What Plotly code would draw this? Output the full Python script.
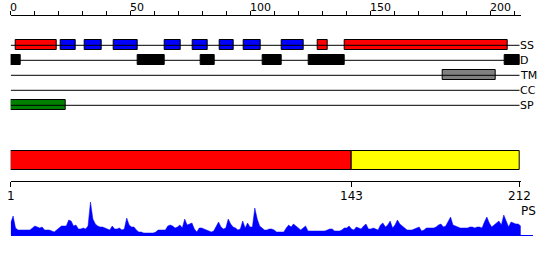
import plotly.graph_objects as go

# ---------------- data ----------------
track_names = ["SS", "D", "TM", "CC", "SP"]

# segments on the 0..212 ruler: (start, end, colour-key)
ss_starts = [2, 21, 31, 43, 64, 76, 87, 97, 113, 128, 139]
ss_ends   = [19, 27, 38, 53, 71, 82, 93, 104, 122, 132, 207]
ss_types  = ["H", "E", "E", "E", "E", "E", "E", "E", "E", "H", "H"]

d_starts = [0, 53, 79, 105, 124, 206]
d_ends   = [4, 64, 85, 113, 139, 212]

tm_starts = [180]
tm_ends   = [202]

cc_starts = []
cc_ends   = []

sp_starts = [0]
sp_ends   = [23]

seq_len = 212
top_ticks = [0, 50, 100, 150, 200]

dom_starts = [1, 143]
dom_ends   = [142, 212]
dom_colors = ["#ff0000", "#ffff00"]
bottom_tick_labels = [1, 143, 212]

ps_values = [
    12, 19, 7, 5, 5, 5, 5, 5, 5, 7,
    9, 8, 7, 8, 5, 5, 5, 4, 3, 5,
    7, 9, 9, 9, 15, 14, 9, 10, 6, 6,
    7, 6, 9, 33, 16, 11, 9, 8, 8, 7,
    6, 5, 9, 6, 6, 7, 5, 6, 17, 10,
    8, 8, 5, 3, 3, 2, 2, 2, 2, 2,
    3, 5, 5, 5, 5, 9, 10, 9, 7, 8,
    10, 7, 16, 10, 11, 12, 6, 3, 7, 7,
    6, 5, 4, 3, 4, 8, 13, 8, 6, 7,
    16, 11, 8, 7, 5, 6, 14, 7, 12, 8,
    8, 27, 16, 9, 7, 5, 5, 6, 6, 5,
    3, 3, 3, 3, 7, 10, 8, 11, 9, 7,
    5, 7, 9, 4, 4, 4, 4, 4, 4, 4,
    4, 5, 6, 6, 4, 4, 4, 5, 7, 7,
    9, 6, 5, 8, 7, 6, 9, 11, 6, 6,
    7, 6, 5, 10, 12, 8, 10, 14, 7, 10,
    15, 11, 9, 7, 5, 5, 5, 6, 7, 8,
    4, 5, 7, 7, 7, 7, 8, 10, 11, 8,
    9, 13, 18, 10, 9, 8, 7, 7, 7, 7,
    8, 8, 7, 8, 8, 7, 13, 18, 12, 8,
    10, 12, 14, 10, 20, 14, 8, 13, 12, 11,
    11, 9,
]
ps_residues = list(range(1, len(ps_values) + 1))

# ---------------- styling ----------------
W, H = 550, 260
X0, X1 = 10.7, 520.7          # pixel extent of the ruler
RULER_MAX = 212.5
FONT = "DejaVu Sans"
ss_color = {"H": "#ff0000", "E": "#0000ff"}

row_y = {name: 45.3 + 15 * i for i, name in enumerate(track_names)}
BOX_H = 10

fig = go.Figure()

# track baselines
for name in track_names:
    fig.add_trace(go.Scatter(x=[0, seq_len], y=[row_y[name]] * 2, mode="lines",
                             line=dict(color="black", width=1), hoverinfo="skip",
                             showlegend=False, xaxis="x", yaxis="y"))


def add_boxes(name, starts, ends, colors):
    if not starts:
        return
    fig.add_trace(go.Bar(
        orientation="h", y=[row_y[name]] * len(starts),
        x=[e - s for s, e in zip(starts, ends)], base=starts, width=BOX_H,
        marker=dict(color=colors, line=dict(color="black", width=1)),
        showlegend=False, xaxis="x", yaxis="y"))


add_boxes("SS", ss_starts, ss_ends, [ss_color[t] for t in ss_types])
add_boxes("D", d_starts, d_ends, ["black"] * len(d_starts))
add_boxes("TM", tm_starts, tm_ends, ["#808080"] * len(tm_starts))
add_boxes("CC", cc_starts, cc_ends, ["#808080"] * len(cc_starts))
add_boxes("SP", sp_starts, sp_ends, ["#008000"] * len(sp_starts))

# domain bar
DOM_Y = 160.5
fig.add_trace(go.Bar(
    orientation="h", y=[DOM_Y] * len(dom_starts),
    x=[e - (s - 1) for s, e in zip(dom_starts, dom_ends)],
    base=[s - 1 for s in dom_starts], width=19.6,
    marker=dict(color=dom_colors, line=dict(color="black", width=1)),
    showlegend=False, xaxis="x", yaxis="y"))

# PS profile
fig.add_trace(go.Scatter(x=ps_residues, y=ps_values, mode="lines", fill="tozeroy",
                         fillcolor="#0000ff", line=dict(color="#0000ff", width=0.5),
                         showlegend=False, xaxis="x2", yaxis="y2"))

annotations = []
for t in top_ticks:
    annotations.append(dict(x=t, y=7.3, xref="x", yref="y", text=str(t),
                            xanchor="left", yanchor="middle", showarrow=False,
                            font=dict(family=FONT, size=11, color="black"), xshift=-3))
for name in track_names:
    annotations.append(dict(x=RULER_MAX, y=row_y[name], xref="x", yref="y", text=name,
                            xanchor="left", yanchor="middle", showarrow=False,
                            font=dict(family=FONT, size=11, color="black"), xshift=-3))
bottom_pos = [dom_starts[0] - 1] + [s - 1 for s in dom_starts[1:]] + [dom_ends[-1]]
for lab, pos in zip(bottom_tick_labels, bottom_pos):
    annotations.append(dict(x=pos, y=196, xref="x", yref="y", text=str(lab),
                            xanchor="center", yanchor="middle", showarrow=False,
                            font=dict(family=FONT, size=12, color="black")))
annotations.append(dict(x=RULER_MAX, y=211, xref="x", yref="y", text="PS",
                        xanchor="left", yanchor="middle", showarrow=False,
                        font=dict(family=FONT, size=12, color="black"), xshift=-2))

px_per_res = 2.417
fig.update_layout(
    width=W, height=H, margin=dict(l=0, r=0, t=0, b=0),
    paper_bgcolor="white", plot_bgcolor="rgba(0,0,0,0)",
    barmode="overlay", bargap=0, showlegend=False,
    annotations=annotations,
    xaxis=dict(domain=[X0 / W, X1 / W], range=[0, RULER_MAX], side="top",
               anchor="free", position=1 - 14.5 / H,
               showline=True, linecolor="black", linewidth=1,
               ticks="outside", ticklen=4, tickwidth=1, tickcolor="black",
               tick0=0, dtick=10, showticklabels=False,
               showgrid=False, zeroline=False, fixedrange=True),
    xaxis3=dict(domain=[X0 / W, X1 / W], matches="x", overlaying="x", side="bottom",
                anchor="free", position=1 - 180.5 / H,
                showline=True, linecolor="black", linewidth=1,
                ticks="outside", ticklen=5, tickwidth=1, tickcolor="black",
                tickmode="array", tickvals=bottom_pos, showticklabels=False,
                showgrid=False, zeroline=False),
    yaxis=dict(domain=[0, 1], range=[H, 0], visible=False, fixedrange=True),
    xaxis2=dict(domain=[X0 / W, 532.7 / W],
                range=[1, 1 + (532.7 - X0) / px_per_res], anchor="y2",
                showline=True, linecolor="#0000ff", linewidth=1,
                showticklabels=False, ticks="", showgrid=False, zeroline=False),
    yaxis2=dict(domain=[(H - 235) / H, (H - 200) / H], range=[0, 35], anchor="x2",
                visible=False),
)

# a dummy trace so xaxis3 is drawn
fig.add_trace(go.Scatter(x=[None], y=[None], xaxis="x3", yaxis="y", showlegend=False))

fig.write_html("out.html")
